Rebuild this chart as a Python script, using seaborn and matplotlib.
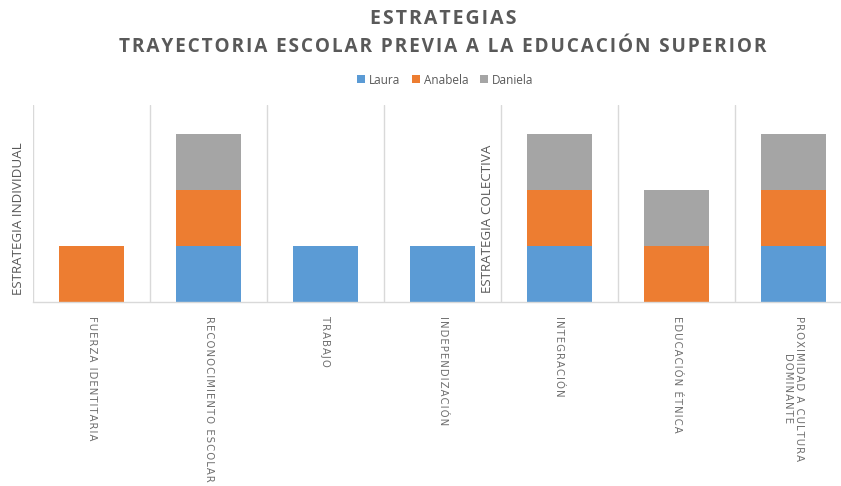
import matplotlib
matplotlib.use("Agg")
import matplotlib.pyplot as plt
from matplotlib.patches import Patch
import seaborn as sns
import pandas as pd
import numpy as np

categories = ["FUERZA IDENTITARIA", "RECONOCIMIENTO ESCOLAR", "TRABAJO",
              "INDEPENDIZACIÓN", "INTEGRACIÓN", "EDUCACIÓN ÉTNICA",
              "PROXIMIDAD A CULTURA\nDOMINANTE"]
laura = [0, 1, 1, 1, 1, 0, 1]
anabela = [1, 1, 0, 0, 1, 1, 1]
daniela = [0, 1, 0, 0, 1, 1, 1]
series_names = ["Laura", "Anabela", "Daniela"]
colors = ["#5B9BD5", "#ED7D31", "#A5A5A5"]
title_lines = ["ESTRATEGIAS", "TRAYECTORIA ESCOLAR PREVIA A LA EDUCACIÓN SUPERIOR"]
group_labels = ["ESTRATEGIA INDIVIDUAL", "ESTRATEGIA COLECTIVA"]

sns.set_style("white")
plt.rcParams['font.family'] = ['Open Sans', 'DejaVu Sans']

TXT = "#595959"
GRID = "#D9D9D9"

df = pd.DataFrame({"cat": categories, "Laura": laura, "Anabela": anabela, "Daniela": daniela})
df["c1"] = df["Laura"]
df["c2"] = df["Laura"] + df["Anabela"]
df["c3"] = df["c2"] + df["Daniela"]

fig = plt.figure(figsize=(8.41, 4.86), dpi=100)
ax = fig.add_axes([33/841, 184/486, 819/841, 197/486])

for col, c in zip(["c3", "c2", "c1"], colors[::-1]):
    sns.barplot(data=df, x="cat", y=col, order=categories, color=c, saturation=1,
                width=0.556, linewidth=0, edgecolor="none", ax=ax, errorbar=None)

ax.set_xlim(-0.5, 6.5)
ax.set_ylim(0, 3.52)
ax.set_yticks([])
ax.set_xlabel("")
ax.set_ylabel("")
for s in ["top", "right", "left"]:
    ax.spines[s].set_visible(False)
ax.spines["bottom"].set_color(GRID)
ax.spines["bottom"].set_linewidth(1)

ax.set_xticks(np.arange(-0.5, 7, 1), minor=True)
ax.grid(True, which="minor", axis="x", color=GRID, linewidth=1)
ax.grid(False, which="major")
ax.set_axisbelow(True)

def spaced(t, sep):
    return "\n".join(sep.join(list(line)) for line in t.split("\n"))

ax.set_xticks(range(len(categories)))
ax.set_xticklabels([spaced(c, "\u200a") for c in categories], rotation=-90, ha="center", va="top",
                   multialignment="center", fontsize=7.3, color="#6E6E6E", family="DejaVu Sans")
ax.tick_params(axis="x", which="both", length=0, pad=10)

fig.text(443/841, 1 - 19/486, spaced(title_lines[0], "\u200a"), ha="center", va="center",
         fontsize=14, fontweight="bold", color=TXT)
fig.text(443/841, 1 - 47/486, spaced(title_lines[1], "\u200a"), ha="center", va="center",
         fontsize=13.7, fontweight="bold", color=TXT)

fig.text(19/841, 1 - 295/486, group_labels[0], rotation=90, ha="center", va="bottom",
         fontsize=9.6, color=TXT)
fig.text(487/841, 1 - 293/486, group_labels[1], rotation=90, ha="center", va="bottom",
         fontsize=9.6, color=TXT)

handles = [Patch(facecolor=c, edgecolor="none") for c in colors]
fig.legend(handles, series_names, loc="center", bbox_to_anchor=(445/841, 1 - 80/486),
           ncol=3, frameon=False, fontsize=8.5, handlelength=0.7, handleheight=0.7,
           handletextpad=0.3, columnspacing=1.0, labelcolor=TXT)

fig.savefig("out.png", dpi=100)
